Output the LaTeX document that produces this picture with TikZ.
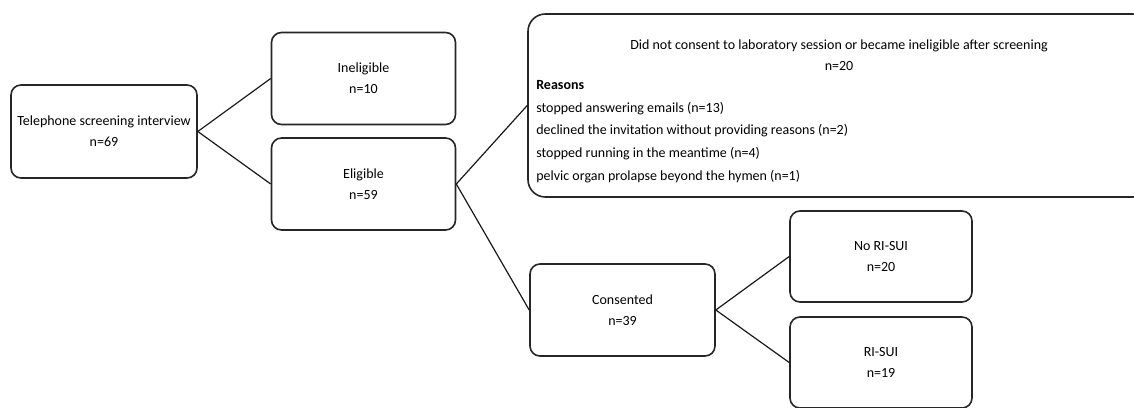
\documentclass[tikz,border=0pt]{standalone}
\usepackage{fontspec}
\setmainfont{Carlito}
\usetikzlibrary{positioning}

\begin{document}
\begin{tikzpicture}[
    x=0.75pt, y=-0.75pt,
    box/.style={rectangle, draw=black!85, line width=1.2pt, rounded corners=7.5pt, fill=white, align=center, inner sep=0pt, minimum width=138pt, minimum height=69pt, font=\fontsize{10.5}{15.5}\selectfont},
    bigbox/.style={box, rounded corners=13pt, minimum width=466.5pt, minimum height=137.25pt},
    txt/.style={inner sep=0pt, font=\fontsize{10.5}{16}\selectfont},
    link/.style={draw=black!90, line width=0.9pt}
]
\clip (0,0) rectangle (1134,407);
\useasboundingbox (0,0) rectangle (1134,407);

% 1. Screening
\node[box, minimum width=139.5pt, minimum height=69.75pt] (phone) at (104,131.5) {Telephone screening interview\\n=69};

% 2. Eligibility
\node[box] (inelig) at (363.5,78.5) {Ineligible\\n=10};
\node[box] (elig) at (363.5,184) {Eligible\\n=59};

% 3. Drop-outs after screening
\node[bigbox] (dropout) at (839,105.5) {};
\node[txt, align=center] (droptitle) at (839,55) {Did not consent to laboratory session or became ineligible after screening\\n=20};
\node[txt, align=left, anchor=north west, font=\fontsize{10.5}{17}\selectfont] (reasons) at (536,80) {\textbf{Reasons}\\stopped answering emails (n=13)\\declined the invitation without providing reasons (n=2)\\stopped running in the meantime (n=4)\\pelvic organ prolapse beyond the hymen (n=1)};

% 4. Laboratory session
\node[box, minimum width=138.75pt] (consent) at (622.5,310) {Consented\\n=39};
\node[box, minimum width=136.5pt, minimum height=68.25pt] (norisui) at (881,256.5) {No RI-SUI\\n=20};
\node[box, minimum width=136.5pt, minimum height=68.25pt] (risui) at (881,362.5) {RI-SUI\\n=19};

% Connectors
\draw[link] (phone.east) -- (inelig.west);
\draw[link] (phone.east) -- (elig.west);
\draw[link] (elig.east) -- (dropout.west);
\draw[link] (elig.east) -- (consent.west);
\draw[link] (consent.east) -- (norisui.west);
\draw[link] (consent.east) -- (risui.west);

\end{tikzpicture}
\end{document}
